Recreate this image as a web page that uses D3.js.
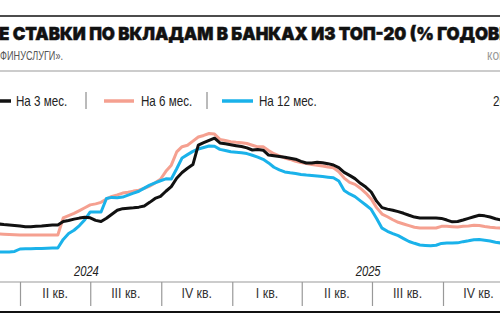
<!DOCTYPE html>
<html><head><meta charset="utf-8">
<script src="https://cdn.jsdelivr.net/npm/d3@7"></script>
<style>
html,body{margin:0;padding:0;background:#fff;overflow:hidden}
svg{display:block}
</style></head>
<body><svg id="c" width="500" height="330"></svg>
<script>
// ---- data (weekly observations, % годовых) ----
const startDate = new Date(2024, 2, 4); // first weekly observation
const rate3m = [16.07,16.03,16.00,15.97,15.93,15.88,15.88,15.91,15.93,15.97,16.00,16.00,16.23,16.30,16.39,16.46,16.51,16.48,16.31,16.23,
16.45,16.72,16.98,17.09,17.12,17.15,17.19,17.27,17.51,17.77,17.91,18.25,18.56,19.12,19.50,19.78,20.03,21.33,21.49,21.64,
21.79,21.47,21.41,21.35,21.29,21.23,21.14,21.00,21.04,20.99,20.66,20.61,20.56,20.51,20.45,20.39,20.24,20.13,20.13,20.18,
20.15,20.09,20.00,19.82,19.51,19.31,19.09,18.78,18.53,18.20,17.59,17.16,17.06,16.98,16.89,16.78,16.65,16.53,16.47,16.47,
16.47,16.47,16.44,16.33,16.21,16.23,16.33,16.44,16.55,16.65,16.61,16.53,16.42,16.33];
const rate6m = [15.40,15.39,15.37,15.35,15.33,15.33,15.33,15.33,15.33,15.33,15.33,15.33,16.47,16.63,16.78,16.96,17.15,17.34,17.41,17.51,
17.74,17.91,18.01,18.13,18.19,18.26,18.32,18.45,18.59,18.81,19.05,19.58,19.99,20.87,21.22,21.32,21.59,21.87,21.97,22.10,
22.06,21.71,21.63,21.55,21.51,21.49,21.43,21.32,21.21,21.21,20.96,20.75,20.61,20.47,20.37,20.25,20.17,20.10,20.04,19.98,
19.93,19.87,19.81,19.55,19.13,18.84,18.71,18.45,18.13,17.74,17.16,16.73,16.55,16.35,16.18,16.07,15.96,15.85,15.80,15.80,
15.80,15.80,15.91,15.91,15.89,15.87,15.91,15.94,15.98,15.97,15.90,15.85,15.82,15.80];
const rate12m = [14.20,14.20,14.20,14.24,14.40,14.41,14.42,14.43,14.44,14.45,14.46,14.47,15.04,15.43,15.65,15.96,16.35,16.87,16.87,16.87,
17.77,17.84,17.81,17.86,17.99,18.12,18.25,18.46,18.66,18.81,18.95,19.08,19.07,19.75,20.47,20.69,20.91,21.07,21.17,21.27,
21.25,21.04,20.97,20.88,20.85,20.82,20.76,20.65,20.53,20.38,20.14,19.85,19.68,19.54,19.48,19.43,19.37,19.33,19.30,19.27,
19.23,19.19,19.15,18.93,18.30,18.07,17.89,17.61,17.33,17.04,16.44,15.79,15.58,15.43,15.29,15.09,14.90,14.78,14.67,14.64,
14.61,14.65,14.77,14.80,14.80,14.81,14.89,14.95,15.02,15.03,14.99,14.93,14.85,14.80];
const seriesNames = ["На 3 мес.", "На 6 мес.", "На 12 мес."];
const quarterStarts = [new Date(2024,0,1),new Date(2024,3,1),new Date(2024,6,1),new Date(2024,9,1),
  new Date(2025,0,1),new Date(2025,3,1),new Date(2025,6,1),new Date(2025,9,1),new Date(2026,0,1)];
const quarterLabels = ["I кв.","II кв.","III кв.","IV кв.","I кв.","II кв.","III кв.","IV кв."];
const yearLabels = [{year:"2024", at:new Date(2024,5,26)},{year:"2025", at:new Date(2025,5,26)}];
const titleText = "СРЕДНИЕ СТАВКИ ПО ВКЛАДАМ В БАНКАХ ИЗ ТОП-20 (% ГОДОВЫХ)";
const sourceText = "Источник: «ФИНУСЛУГИ».";

const dates = rate3m.map((_, i) => d3.timeDay.offset(startDate, 7 * i));

const svg = d3.select("#c");
const x = d3.scaleTime().domain([new Date(2024,3,1), new Date(2025,9,1)]).range([20, 443]);
const y = d3.scaleLinear().domain([10, 25]).range([315, 90]);

// narrow text helper (Arial-Narrow-like via horizontal compression)
function ntext(px, py, str, opts) {
  opts = opts || {};
  const t = svg.append("text")
    .attr("transform", `translate(${px},${py}) scale(${opts.sx || 0.8},1)`)
    .attr("font-family", "'Liberation Sans', Arial, sans-serif")
    .attr("font-size", opts.size || 14)
    .attr("fill", opts.fill || "#222")
    .attr("text-anchor", opts.anchor || "start")
    .text(str);
  if (opts.italic) t.attr("font-style", "italic");
  return t;
}

// header rules
svg.append("line").attr("x1",0).attr("x2",500).attr("y1",16).attr("y2",16).attr("stroke","#111").attr("stroke-width",1.5);
svg.append("line").attr("x1",0).attr("x2",500).attr("y1",71).attr("y2",71).attr("stroke","#999").attr("stroke-width",1);

// title
const title = svg.append("text").attr("y",40.5).attr("font-family","Inter, 'Liberation Sans', sans-serif")
  .attr("font-weight",900).attr("font-size",18).attr("fill","#111").attr("stroke","#111").attr("stroke-width",0.5)
  .text(titleText);
{
  const n = title.node();
  const s = n.getStartPositionOfChar(6).x;
  const e = n.getEndPositionOfChar(titleText.length - 4).x;
  const k = 501 / (e - s);
  title.attr("transform", `translate(${-1 - s*k},0) scale(${k},1)`);
}
ntext(63, 60, sourceText, {size:13, fill:"#555", anchor:"end", sx:0.7});
ntext(487, 60, "коммерсантъ", {size:15, fill:"#999"});

// legend
const colors = ["#111111", "#f5a090", "#1ab2ea"];
const legend = [
  {dx0:-19, dx1:11, tx:16},
  {dx0:104, dx1:134, tx:141},
  {dx0:222, dx1:253, tx:259}
];
legend.forEach((l, i) => {
  svg.append("line").attr("x1",l.dx0).attr("x2",l.dx1).attr("y1",101).attr("y2",101)
    .attr("stroke",colors[i]).attr("stroke-width",3.5);
  ntext(l.tx, 106, seriesNames[i], {size:14.5});
});
[86, 207].forEach(px => svg.append("line").attr("x1",px).attr("x2",px).attr("y1",92).attr("y2",109)
  .attr("stroke","#777").attr("stroke-width",1));
ntext(493, 106, "2026", {size:14.5});

// lines
const line = d3.line().x((d,i) => x(dates[i])).y(d => y(d));
[[rate6m,1],[rate12m,2],[rate3m,0]].forEach(([arr, ci]) => {
  svg.append("path").datum(arr).attr("d", line).attr("fill","none")
    .attr("stroke", colors[ci]).attr("stroke-width",3).attr("stroke-linejoin","round");
});

// year labels
yearLabels.forEach(yl => ntext(x(yl.at), 276, yl.year, {size:14, anchor:"middle", italic:true}));

// quarter axis
svg.append("line").attr("x1",0).attr("x2",500).attr("y1",282).attr("y2",282).attr("stroke","#999").attr("stroke-width",1.2);
const ax = d3.axisBottom(x).tickValues(quarterStarts).tickSize(24).tickFormat("");
const g = svg.append("g").attr("transform","translate(0,282)").call(ax);
g.select(".domain").remove();
g.selectAll(".tick line").attr("stroke","#999").attr("stroke-width",1.2);
quarterLabels.forEach((lab, i) => {
  const mid = new Date((quarterStarts[i].getTime() + quarterStarts[i+1].getTime())/2);
  ntext(x(mid), 298, lab, {size:15.5, anchor:"middle", fill:"#333"});
});
svg.append("line").attr("x1",0).attr("x2",500).attr("y1",312).attr("y2",312).attr("stroke","#111").attr("stroke-width",2);
</script></body></html>
